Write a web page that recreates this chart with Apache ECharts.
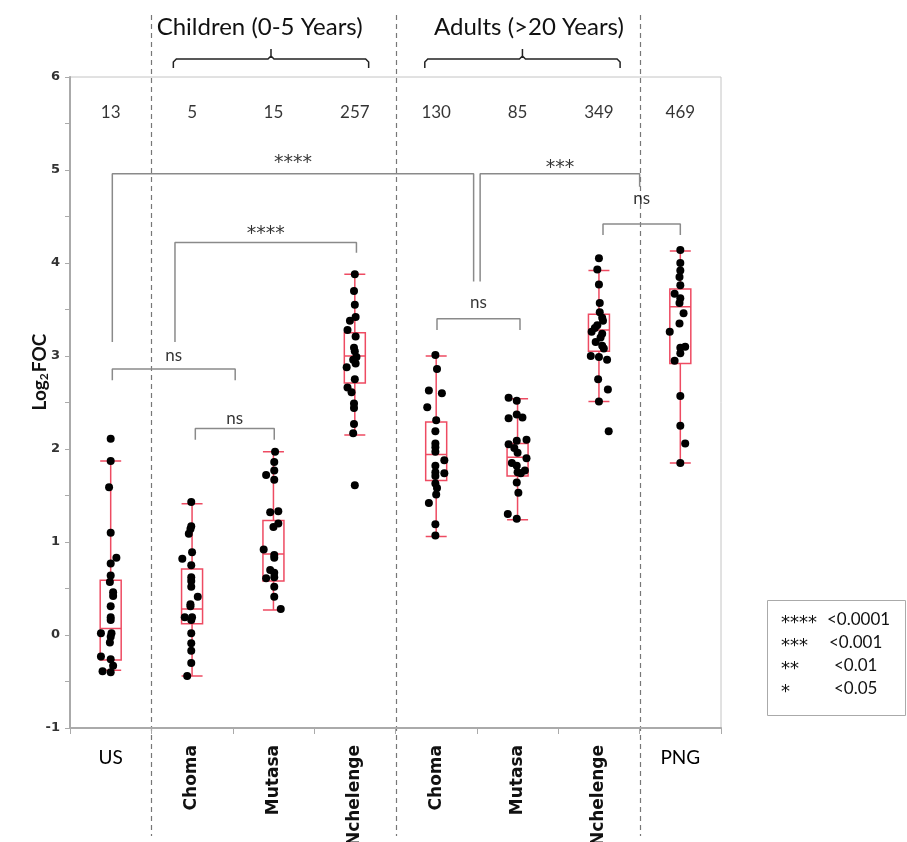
<!DOCTYPE html>
<html>
<head>
<meta charset="utf-8">
<script src="https://cdn.jsdelivr.net/npm/echarts@6/dist/echarts.min.js"></script>
<style>
  html, body { margin: 0; padding: 0; background: #fff; }
  #chart { width: 907px; height: 842px; }
</style>
</head>
<body>
<div id="chart"></div>
<script>
// groups along the x axis
var groups = ['US', 'Choma', 'Mutasa', 'Nchelenge', 'Choma', 'Mutasa', 'Nchelenge', 'PNG'];
var counts = [13, 5, 15, 257, 130, 85, 349, 469];
var countLevel = 5.62;

// [min, q1, median, q3, max]
var boxStats = [
  [-0.38, -0.27, 0.07, 0.59, 1.87],
  [-0.44, 0.12, 0.28, 0.71, 1.41],
  [0.27, 0.58, 0.87, 1.23, 1.97],
  [2.15, 2.71, 3.00, 3.25, 3.88],
  [1.06, 1.66, 1.94, 2.29, 3.00],
  [1.24, 1.71, 1.91, 2.06, 2.54],
  [2.51, 3.05, 3.28, 3.45, 3.92],
  [1.85, 2.92, 3.53, 3.72, 4.13]
];

// individual points (log2 FOC) and their horizontal jitter (in category widths)
var usVals = [2.11, 1.87, 1.59, 1.10, 0.83, 0.77, 0.64, 0.57, 0.46, 0.42, 0.31, 0.19, 0.16, 0.02, 0.02, -0.02, -0.08, -0.23, -0.26, -0.33, -0.39, -0.40];
var usJit = [0, 0, -0.02, 0, 0.07, 0, 0, -0.01, 0.03, 0.03, 0, 0, 0, -0.12, 0.01, 0, -0.01, -0.12, 0, 0.03, -0.1, 0];
var chChomaVals = [1.43, 1.17, 1.14, 1.09, 0.82, 0.89, 0.75, 0.62, 0.58, 0.52, 0.41, 0.33, 0.31, 0.19, 0.19, 0.16, 0.02, -0.09, -0.17, -0.30, -0.44];
var chChomaJit = [-0.01, -0.01, -0.02, -0.04, -0.12, 0, -0.01, -0.01, -0.01, -0.01, 0.07, -0.02, -0.02, -0.09, 0, -0.01, -0.01, -0.01, -0.01, -0.01, -0.06];
var chMutasaVals = [1.97, 1.86, 1.77, 1.72, 1.67, 1.33, 1.32, 1.20, 1.16, 0.92, 0.86, 0.83, 0.70, 0.67, 0.62, 0.61, 0.52, 0.41, 0.28];
var chMutasaJit = [0.02, 0.01, 0.01, -0.09, 0.01, 0.06, -0.04, 0.06, 0, -0.12, 0.01, 0.01, -0.04, 0.01, 0.01, -0.09, 0.01, 0.01, 0.09];
var chNchVals = [3.88, 3.70, 3.55, 3.42, 3.38, 3.28, 3.21, 3.09, 3.05, 2.99, 2.96, 2.88, 2.92, 2.75, 2.66, 2.61, 2.49, 2.44, 2.27, 2.17, 1.61];
var chNchJit = [0, -0.01, 0, 0.01, -0.06, -0.09, 0.01, -0.01, 0, 0.02, -0.02, -0.1, 0.01, 0, -0.09, -0.04, -0.01, -0.01, -0.01, -0.02, 0];
var adChomaVals = [3.01, 2.86, 2.63, 2.60, 2.45, 2.31, 2.19, 2.06, 2.02, 1.97, 1.88, 1.82, 1.75, 1.74, 1.71, 1.63, 1.58, 1.51, 1.42, 1.19, 1.07];
var adChomaJit = [-0.01, 0.01, -0.09, 0.07, -0.11, 0, -0.01, -0.01, -0.01, -0.01, 0.1, -0.01, -0.01, 0.1, -0.01, -0.01, 0.01, 0, -0.09, -0.01, -0.01];
var adMutasaVals = [2.55, 2.52, 2.33, 2.37, 2.34, 2.09, 2.10, 2.05, 2.01, 1.96, 1.90, 1.85, 1.82, 1.77, 1.75, 1.74, 1.64, 1.53, 1.30, 1.25];
var adMutasaJit = [-0.11, -0.01, -0.11, -0.01, 0.06, -0.01, 0.11, -0.11, -0.04, 0, 0.11, -0.07, -0.01, 0.09, 0, 0.04, -0.01, 0.01, -0.12, -0.01];
var adNchVals = [4.05, 3.93, 3.77, 3.57, 3.47, 3.41, 3.38, 3.33, 3.30, 3.26, 3.24, 3.20, 3.15, 3.11, 3.08, 3.00, 2.99, 2.96, 2.75, 2.64, 2.51, 2.19];
var adNchJit = [0, -0.02, 0, 0.01, 0.01, 0.04, 0.05, -0.02, -0.05, -0.09, 0.04, 0.02, -0.04, 0.04, 0.06, -0.1, 0, 0.1, -0.01, 0.11, 0, 0.12];
var pngVals = [4.14, 4.00, 3.92, 3.85, 3.76, 3.67, 3.62, 3.57, 3.46, 3.35, 3.26, 3.10, 3.09, 3.03, 2.95, 2.57, 2.25, 2.06, 1.85];
var pngJit = [0, 0, 0, -0.01, 0, -0.07, 0, -0.01, 0.04, -0.01, -0.13, 0.06, 0, 0, -0.07, 0, 0, 0.06, 0];

var pointVals = [usVals, chChomaVals, chMutasaVals, chNchVals, adChomaVals, adMutasaVals, adNchVals, pngVals];
var pointJit = [usJit, chChomaJit, chMutasaJit, chNchJit, adChomaJit, adMutasaJit, adNchJit, pngJit];

// significance brackets: from, to (category index), top, left end, right end, label, label level
var brackets = [
  [0.02, 4.46, 4.96, 3.15, 3.80, '****', 5.11],
  [0.79, 3.02, 4.22, 3.15, 4.11, '****', 4.35],
  [0.02, 1.53, 2.86, 2.74, 2.74, 'ns', 3.01],
  [1.04, 2.01, 2.22, 2.10, 2.10, 'ns', 2.33],
  [4.01, 5.03, 3.40, 3.28, 3.28, 'ns', 3.58],
  [4.54, 6.50, 4.96, 3.80, 4.82, '***', 5.06],
  [6.05, 7.00, 4.42, 4.30, 4.30, 'ns', 4.69]
];

var pValueKey = [['****', '<0.0001'], ['***', '<0.001'], ['**', '<0.01'], ['*', '<0.05']];

var bodyFont = 'Lato, "Open Sans", sans-serif';
var starFont = '"DejaVu Sans", sans-serif';
var chart = echarts.init(document.getElementById('chart'));

var scatterData = [];
pointVals.forEach(function(vals, g) {
  vals.forEach(function(v, k) {
    scatterData.push([g + pointJit[g][k], v]);
  });
});

var series = [];
series.push({
  type: 'boxplot',
  xAxisIndex: 0,
  data: boxStats,
  boxWidth: [21, 21],
  itemStyle: { color: 'rgba(0,0,0,0)', borderColor: '#ee4b62', borderWidth: 1.5 },
  z: 2
});
series.push({
  type: 'scatter',
  xAxisIndex: 1,
  data: scatterData,
  symbolSize: 8,
  itemStyle: { color: '#000', opacity: 1 },
  z: 3
});
brackets.forEach(function(b) {
  series.push({
    type: 'line',
    xAxisIndex: 1,
    data: [[b[0], b[3]], [b[0], b[2]], [b[1], b[2]], [b[1], b[4]]],
    symbol: 'none',
    lineStyle: { color: '#8a8a8a', width: 1.5 },
    z: 1,
    silent: true
  });
});
series.push({
  type: 'scatter',
  xAxisIndex: 1,
  data: brackets.map(function(b) { return { value: [(b[0] + b[1]) / 2, b[6]], name: b[5] }; }),
  symbolSize: 0,
  label: {
    show: true, position: 'inside', color: '#000',
    formatter: function(p) { return p.name === 'ns' ? '{n|ns}' : '{s|' + p.name + '}'; },
    rich: {
      n: { fontSize: 17, fontFamily: bodyFont, color: '#000' },
      s: { fontSize: 19, fontFamily: starFont, color: '#000', padding: [7, 0, 0, 0] }
    }
  },
  silent: true
});
series.push({
  type: 'scatter',
  xAxisIndex: 1,
  data: counts.map(function(c, i) { return { value: [i, countLevel], name: String(c) }; }),
  symbolSize: 0,
  label: {
    show: true, position: 'inside', formatter: '{b}',
    color: '#000', fontSize: 17, fontFamily: bodyFont
  },
  silent: true
});

var option = {
  animation: false,
  backgroundColor: '#fff',
  grid: {
    left: 70, right: 186, top: 77, bottom: 114,
    containLabel: false, outerBoundsMode: 'none',
    show: true, borderColor: '#c4c4c4', borderWidth: 1
  },
  xAxis: [
    {
      type: 'category',
      data: groups.map(function(g, i) { return String(i); }),
      position: 'bottom',
      axisLine: { onZero: false, lineStyle: { color: '#aaa', width: 2 } },
      axisTick: { show: true, length: 6, lineStyle: { color: '#aaa' } },
      axisLabel: {
        interval: 0, margin: 20, color: '#000', fontSize: 19, fontFamily: bodyFont,
        formatter: function(v, i) { return (i === 0 || i === 7) ? groups[i] : ''; }
      },
      splitLine: { show: false }
    },
    {
      type: 'value',
      min: -0.5, max: 7.5,
      show: false
    },
    {
      type: 'category',
      data: groups.map(function(g, i) { return String(i); }),
      position: 'bottom',
      axisLine: { show: false, onZero: false },
      axisTick: { show: false },
      axisLabel: {
        interval: 0, rotate: 90, margin: 17, color: '#111',
        fontSize: 17, fontWeight: 'bold', fontFamily: '"DejaVu Sans", sans-serif',
        formatter: function(v, i) { return (i > 0 && i < 7) ? groups[i] : ''; }
      },
      splitLine: { show: false }
    }
  ],
  yAxis: {
    type: 'value',
    min: -1, max: 6, interval: 1,
    axisLine: { show: true, onZero: false, lineStyle: { color: '#aaa', width: 2 } },
    axisTick: { show: true, length: 5, lineStyle: { color: '#aaa' } },
    minorTick: { show: true, splitNumber: 2, length: 5, lineStyle: { color: '#aaa' } },
    splitLine: { show: false },
    axisLabel: { color: '#333', fontSize: 13, fontWeight: 'bold', fontFamily: '"DejaVu Sans", sans-serif', margin: 10 }
  },
  series: series
};
chart.setOption(option);

// decorations placed from the axis scale
function px(x) { return chart.convertToPixel({ xAxisIndex: 1 }, x); }
var graphics = [];
[0.5, 3.5, 6.5].forEach(function(b) {
  var x = Math.round(px(b)) + 0.5;
  graphics.push({
    type: 'line', silent: true, z: 0,
    shape: { x1: x, y1: 15, x2: x, y2: 836 },
    style: { stroke: '#777', lineWidth: 1.2, lineDash: [5, 4] }
  });
});
function brace(a, b) {
  var x1 = px(a), x2 = px(b), xc = (x1 + x2) / 2;
  return {
    type: 'polyline', silent: true,
    shape: {
      points: [[x1, 68], [x1, 62], [x1 + 3, 59], [xc - 3, 59], [xc, 56], [xc, 49], [xc, 56], [xc + 3, 59], [x2 - 3, 59], [x2, 62], [x2, 68]]
    },
    style: { stroke: '#222', lineWidth: 1.5, fill: null }
  };
}
graphics.push(brace(0.77, 3.17));
graphics.push(brace(3.86, 6.26));
graphics.push({
  type: 'text', x: px(1.83), y: 27,
  style: { text: 'Children (0-5 Years)', font: '24px ' + bodyFont, fill: '#111', align: 'center', verticalAlign: 'middle' }
});
graphics.push({
  type: 'text', x: px(5.14), y: 27,
  style: { text: 'Adults (>20 Years)', font: '24px ' + bodyFont, fill: '#111', align: 'center', verticalAlign: 'middle' }
});
// y axis title
graphics.push({
  type: 'text', x: 40, y: 372, rotation: Math.PI / 2,
  style: {
    text: '{a|Log}{b|2}{a|FOC}', align: 'center', verticalAlign: 'middle',
    rich: {
      a: { fontSize: 19, fontWeight: 'bold', fontFamily: bodyFont, fill: '#111', lineHeight: 22 },
      b: { fontSize: 12, fontWeight: 'bold', fontFamily: bodyFont, fill: '#111', lineHeight: 22, padding: [9, 1, 0, 0] }
    }
  }
});
graphics.push({
  type: 'rect', shape: { x: 767.5, y: 600.5, width: 138, height: 115 },
  style: { fill: '#fff', stroke: '#aaa', lineWidth: 1 }
});
pValueKey.forEach(function(r, i) {
  var y = 620 + i * 23;
  graphics.push({
    type: 'text', x: 781, y: y + 3,
    style: { text: r[0], font: '18px ' + starFont, fill: '#111', verticalAlign: 'middle' }
  });
  graphics.push({
    type: 'text', x: i === 0 ? 827 : (i === 1 ? 829 : 834), y: y,
    style: { text: r[1], font: '17px ' + bodyFont, fill: '#111', verticalAlign: 'middle' }
  });
});
chart.setOption({ graphic: graphics });
</script>
</body>
</html>
